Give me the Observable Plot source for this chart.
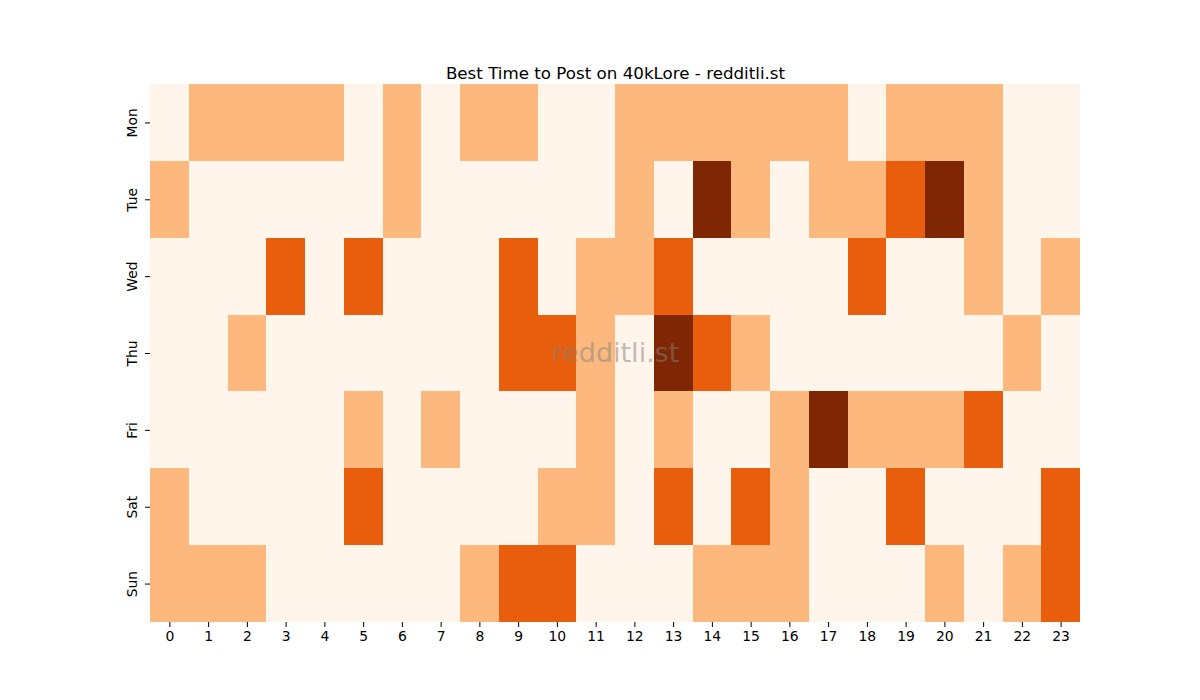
<!DOCTYPE html>
<html>
<head>
<meta charset="utf-8">
<script src="https://cdn.jsdelivr.net/npm/d3@7"></script>
<script src="https://cdn.jsdelivr.net/npm/@observablehq/plot@0.6"></script>
<style>
  html, body { margin: 0; padding: 0; background: #fff; }
</style>
</head>
<body>
<div id="chart"></div>
<script>
const days = ["Mon", "Tue", "Wed", "Thu", "Fri", "Sat", "Sun"];
const hours = [0, 1, 2, 3, 4, 5, 6, 7, 8, 9, 10, 11, 12, 13, 14, 15, 16, 17, 18, 19, 20, 21, 22, 23];
const mon = [0,1,1,1,1,0,1,0,1,1,0,0,1,1,1,1,1,1,0,1,1,1,0,0];
const tue = [1,0,0,0,0,0,1,0,0,0,0,0,1,0,3,1,0,1,1,2,3,1,0,0];
const wed = [0,0,0,2,0,2,0,0,0,2,0,1,1,2,0,0,0,0,2,0,0,1,0,1];
const thu = [0,0,1,0,0,0,0,0,0,2,2,1,0,3,2,1,0,0,0,0,0,0,1,0];
const fri = [0,0,0,0,0,1,0,1,0,0,0,1,0,1,0,0,1,3,1,1,1,2,0,0];
const sat = [1,0,0,0,0,2,0,0,0,0,1,1,0,2,0,2,1,0,0,2,0,0,0,2];
const sun = [1,1,1,0,0,0,0,0,1,2,2,0,0,0,1,1,1,0,0,0,1,0,1,2];
const levels = [0, 1, 2, 3];
const levelColors = ["#fff5eb", "#fdb97d", "#e95e0d", "#7f2704"];
const title = "Best Time to Post on 40kLore - redditli.st";
const watermark = "redditli.st";

const rows = [mon, tue, wed, thu, fri, sat, sun];
const cells = days.flatMap((day, i) => rows[i].map((v, j) => ({day, hour: hours[j], v})));

const chart = Plot.plot({
  width: 1200,
  height: 700,
  marginLeft: 150,
  marginRight: 120,
  marginTop: 84,
  marginBottom: 78,
  style: {fontFamily: "DejaVu Sans", fontSize: "13.9px", background: "white", color: "black"},
  x: {type: "band", domain: hours, padding: 0, round: false, label: null, tickSize: 5, tickPadding: 4},
  y: {type: "band", domain: days, padding: 0, round: false, label: null, tickRotate: -90, tickSize: 5, tickPadding: 9},
  color: {type: "ordinal", domain: levels, range: levelColors},
  marks: [
    Plot.cell(cells, {x: "hour", y: "day", fill: (d) => d.v, shapeRendering: "crispEdges"}),
    Plot.text([watermark], {frameAnchor: "middle", text: (d) => d, fontSize: 27, fill: "#808080", fillOpacity: 0.5}),
    Plot.text([title], {frameAnchor: "top", text: (d) => d, lineAnchor: "bottom", dy: -6, fontSize: 16.7, fill: "black"})
  ]
});
document.getElementById("chart").appendChild(chart);
</script>
</body>
</html>
